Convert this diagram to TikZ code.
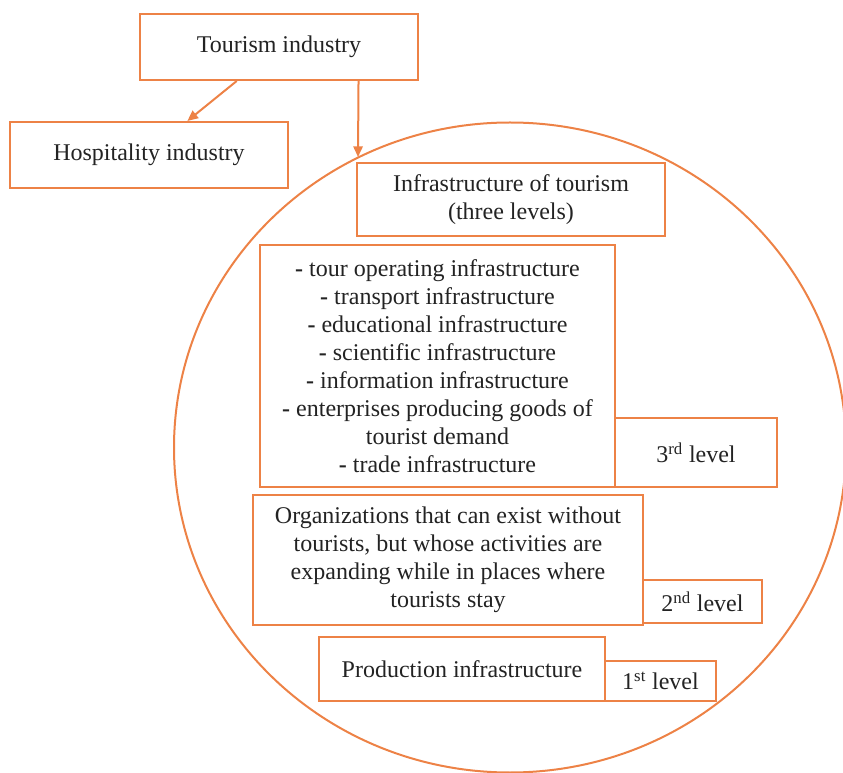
\documentclass[tikz,border=0pt]{standalone}
\usepackage{fontspec}
\setmainfont{Liberation Serif}
\usetikzlibrary{arrows.meta,calc,shapes.geometric}
\definecolor{org}{RGB}{237,130,70}
\definecolor{txt}{RGB}{35,35,35}
\begin{document}
\begin{tikzpicture}[x=0.75pt,y=-0.75pt,
  box/.style={draw=org, line width=1.5pt, fill=white, inner sep=0pt, align=center, text=txt,
              font=\fontsize{18pt}{21pt}\selectfont},
  arr/.style={draw=org, line width=1.5pt, -{Triangle[length=8pt,width=7pt]}}]
\useasboundingbox (0,0) rectangle (843,773);
\node[draw=org, line width=1.5pt, ellipse, minimum width=504pt, minimum height=487.5pt, inner sep=0pt] (circ) at (510,447.5) {};

\node[box, minimum width=208.5pt, minimum height=49.5pt] (tour) at (279,47) {Tourism industry};
\node[box, minimum width=208.5pt, minimum height=49.5pt] (hosp) at (149,155) {Hospitality industry};
\node[box, minimum width=231pt, minimum height=54.75pt] (infra) at (511,199.5) {Infrastructure of tourism\\(three levels)};
\node[box, minimum width=266.25pt, minimum height=181.5pt] (list) at (437.5,366) {%
\textbf{-} tour operating infrastructure\\
\textbf{-} transport infrastructure\\
\textbf{-} educational infrastructure\\
\textbf{-} scientific infrastructure\\
\textbf{-} information infrastructure\\
\textbf{-} enterprises producing goods of\\
tourist demand\\
\textbf{-} trade infrastructure};
\node[box, minimum width=121.5pt, minimum height=51.75pt] (l3) at (696,452.5) {3\textsuperscript{rd} level};
\node[box, minimum width=292.5pt, minimum height=97.5pt] (orgs) at (448,560) {Organizations that can exist without\\tourists, but whose activities are\\expanding while in places where\\tourists stay};
\node[box, minimum width=89.25pt, minimum height=32.25pt] (l2) at (702.5,601.5) {2\textsuperscript{nd} level};
\node[box, minimum width=214.5pt, minimum height=48pt] (prod) at (462,669) {Production infrastructure};
\node[box, minimum width=83.25pt, minimum height=30pt] (l1) at (660.5,681) {1\textsuperscript{st} level};

\coordinate (tip) at (358,157);
\draw[arr] ($(tour.south west)!0.349!(tour.south east)$) -- ($(hosp.north west)!0.637!(hosp.north east)$);
\draw[arr] ($(tour.south west)!0.784!(tour.south east)$) -- (tip);
\end{tikzpicture}
\end{document}
